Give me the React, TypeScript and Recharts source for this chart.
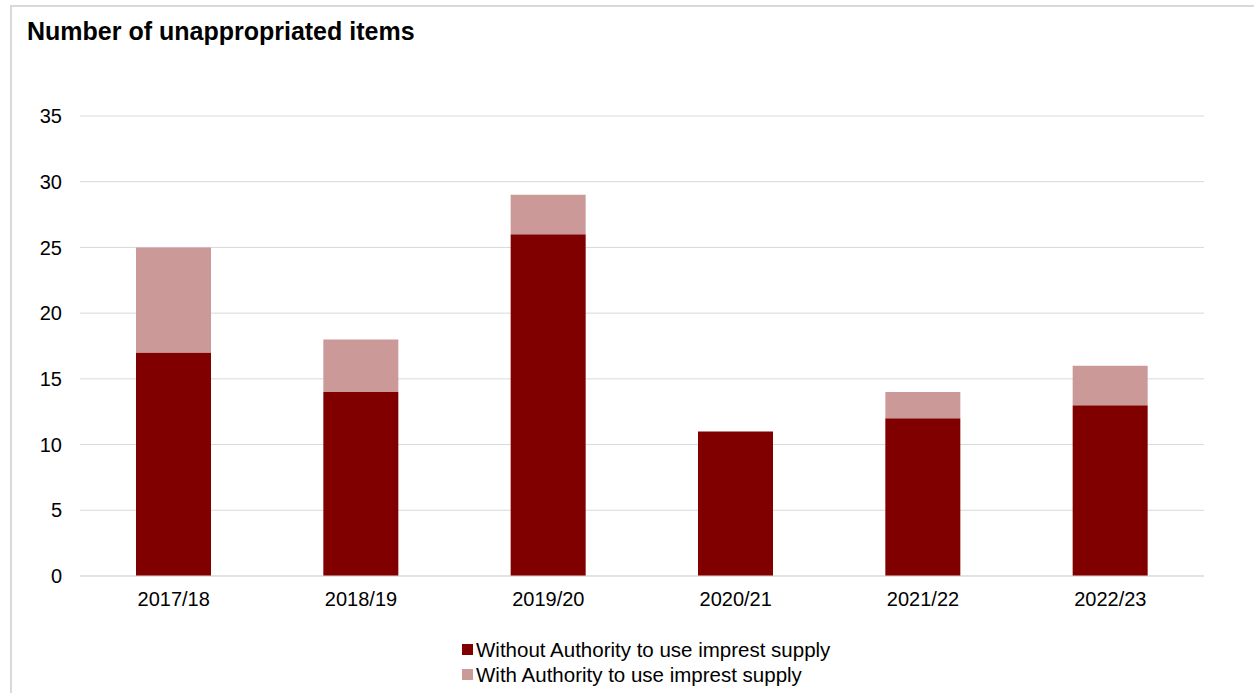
import React from 'react';
import { BarChart, Bar, XAxis, YAxis, CartesianGrid } from 'recharts';

const categories = ['2017/18', '2018/19', '2019/20', '2020/21', '2021/22', '2022/23'];
const withoutAuthority = [17, 14, 26, 11, 12, 13];
const withAuthority = [8, 4, 3, 0, 2, 3];
const yTicks = [0, 5, 10, 15, 20, 25, 30, 35];

const seriesNames = ['Without Authority to use imprest supply', 'With Authority to use imprest supply'];
const seriesColors = ['#800000', '#CC9999'];

const data = categories.map((c, i) => ({
  name: c,
  without: withoutAuthority[i],
  with: withAuthority[i],
}));

const FONT = 'Arial, "Liberation Sans", Helvetica, sans-serif';

export default function App() {
  return (
    <div
      style={{
        position: 'absolute',
        left: 0,
        top: 0,
        width: 1254,
        height: 693,
        overflow: 'hidden',
        background: '#fff',
        fontFamily: FONT,
      }}
    >
      <div
        style={{
          position: 'absolute',
          left: 10,
          top: 5,
          width: 1300,
          height: 760,
          border: '2px solid #D9D9D9',
          boxSizing: 'border-box',
        }}
      />
      <div
        style={{
          position: 'absolute',
          left: 27,
          top: 19,
          fontSize: 25,
          lineHeight: '25px',
          fontWeight: 'bold',
          color: '#000',
          whiteSpace: 'nowrap',
        }}
      >
        Number of unappropriated items
      </div>
      <div style={{ position: 'absolute', left: 0, top: 0 }}>
        <BarChart
          width={1254}
          height={693}
          data={data}
          margin={{ top: 116, right: 50, bottom: 87, left: 10 }}
          barSize={75}
        >
          <CartesianGrid vertical={false} stroke="#D9D9D9" strokeWidth={1} />
          <XAxis
            dataKey="name"
            axisLine={{ stroke: '#D9D9D9', strokeWidth: 1 }}
            tickLine={false}
            tickSize={0}
            tickMargin={16}
            height={30}
            tick={{ fill: '#000', fontSize: 20, fontFamily: FONT }}
          />
          <YAxis
            width={70}
            domain={[0, 35]}
            ticks={yTicks}
            interval={0}
            axisLine={false}
            tickLine={false}
            tickSize={0}
            tickMargin={18}
            tick={{ fill: '#000', fontSize: 20, fontFamily: FONT }}
          />
          <Bar dataKey="without" name={seriesNames[0]} stackId="a" fill={seriesColors[0]} isAnimationActive={false} />
          <Bar dataKey="with" name={seriesNames[1]} stackId="a" fill={seriesColors[1]} isAnimationActive={false} />
        </BarChart>
      </div>
      <div style={{ position: 'absolute', left: 462, top: 637 }}>
        {seriesNames.map((n, i) => (
          <div
            key={n}
            style={{
              display: 'flex',
              alignItems: 'center',
              height: 25,
              fontSize: 20.5,
              lineHeight: '25px',
              color: '#000',
              whiteSpace: 'nowrap',
            }}
          >
            <span
              style={{
                display: 'inline-block',
                width: 11,
                height: 11,
                background: seriesColors[i],
                marginRight: 3,
              }}
            />
            <span>{n}</span>
          </div>
        ))}
      </div>
    </div>
  );
}
